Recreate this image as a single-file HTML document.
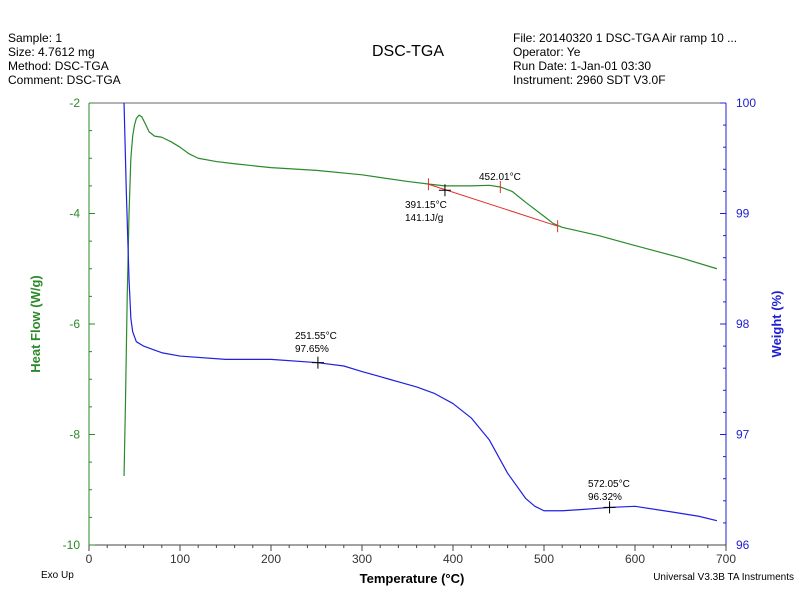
<!DOCTYPE html>
<html><head><meta charset="utf-8"><style>
body{margin:0;background:#fff;font-family:"Liberation Sans",sans-serif}
svg text{font-family:"Liberation Sans",sans-serif}
</style></head><body>
<svg id="c" width="800" height="600" xmlns="http://www.w3.org/2000/svg">
<rect width="800" height="600" fill="#fff"/>
<g font-size="12" fill="#000">
<text x="8" y="42">Sample: 1</text><text x="8" y="56">Size:  4.7612 mg</text>
<text x="8" y="70">Method: DSC-TGA</text><text x="8" y="84">Comment: DSC-TGA</text>
</g>
<text x="408" y="56" font-size="16" text-anchor="middle">DSC-TGA</text>
<g font-size="12">
<text x="513" y="42">File: 20140320   1 DSC-TGA  Air ramp  10 ...</text>
<text x="513" y="56">Operator: Ye</text><text x="513" y="70">Run Date: 1-Jan-01 03:30</text>
<text x="513" y="84">Instrument: 2960 SDT V3.0F</text>
</g>
<text x="41" y="578" font-size="10">Exo Up</text>
<text x="794" y="580" font-size="10" text-anchor="end">Universal V3.3B TA Instruments</text>
<g id="axes"></g>
<g id="marks"></g>
</svg>
<script>
const xTicks=[0,100,200,300,400,500,600,700];
const hfTicks=[-2,-4,-6,-8,-10];
const wTicks=[100,99,98,97,96];
const hfT=[38.5,40,42,44,46,48,50,52,55,58,62,66,72,80,90,100,110,120,140,160,200,250,300,350,375,391,420,440,452,465,480,500,510,520,560,600,650,690];
const hfV=[-8.75,-7.5,-5.5,-4,-3,-2.6,-2.4,-2.28,-2.22,-2.25,-2.38,-2.52,-2.6,-2.62,-2.7,-2.8,-2.92,-3.0,-3.06,-3.1,-3.17,-3.22,-3.3,-3.42,-3.47,-3.5,-3.5,-3.49,-3.52,-3.6,-3.8,-4.05,-4.18,-4.25,-4.4,-4.58,-4.8,-5.0];
const wT=[38.5,41,44,46,48,52,60,70,80,100,150,200,251.5,280,300,330,360,380,400,420,440,460,480,490,500,520,540,572,600,640,670,690];
const wV=[100,99.2,98.4,98.05,97.93,97.84,97.8,97.77,97.74,97.71,97.68,97.68,97.65,97.62,97.57,97.5,97.43,97.37,97.28,97.15,96.95,96.65,96.42,96.35,96.31,96.31,96.32,96.34,96.35,96.3,96.26,96.22];
const baseT=[373,515];const baseV=[-3.47,-4.23];
const X=t=>89+t*0.91, YL=v=>103+(-2-v)*55.25, YR=v=>103+(100-v)*110.5;
const NS='http://www.w3.org/2000/svg';
function mk(tag,at,parent){const e=document.createElementNS(NS,tag);for(const k in at)e.setAttribute(k,at[k]);(parent||document.getElementById('marks')).appendChild(e);return e;}
const ax=document.getElementById('axes');
let e=mk('line',{x1:89,y1:103,x2:726,y2:103,stroke:'#666'},ax);

e=mk('line',{x1:89,y1:103,x2:89,y2:545,stroke:'#2a8a2a'},ax);

e=mk('line',{x1:726,y1:103,x2:726,y2:545,stroke:'#2020d0'},ax);

e=mk('line',{x1:89,y1:545,x2:726,y2:545,stroke:'#444'},ax);

for(let t=0;t<=700;t+=20){mk('line',{x1:X(t),y1:545,x2:X(t),y2:t%100?548:551,stroke:'#444'},ax);}
xTicks.forEach(t=>{e=mk('text',{x:X(t),y:563,'font-size':12,'text-anchor':'middle',fill:'#333'},ax);e.textContent=t;
});
for(let v=-2;v>=-10;v-=0.5){mk('line',{x1:89,y1:YL(v),x2:v%2?92:95,y2:YL(v),stroke:'#2a8a2a'},ax);}
hfTicks.forEach(v=>{e=mk('text',{x:80,y:YL(v)+4,'font-size':12,'text-anchor':'end',fill:'#2a8a2a'},ax);e.textContent=v;
});
for(let v=100;v>=96;v-=0.2){mk('line',{x1:726,y1:YR(v),x2:Math.abs(v-Math.round(v))<0.01?720:723,y2:YR(v),stroke:'#2020d0'},ax);}
wTicks.forEach(v=>{e=mk('text',{x:736,y:YR(v)+4,'font-size':12,fill:'#2020d0'},ax);e.textContent=v;
});
e=mk('text',{x:412,y:583,'font-size':13,'font-weight':'bold','text-anchor':'middle'},ax);e.textContent='Temperature (°C)';

e=mk('text',{x:40,y:324,'font-size':13,'font-weight':'bold','text-anchor':'middle',fill:'#2a8a2a',transform:'rotate(-90 40 324)'},ax);e.textContent='Heat Flow (W/g)';

e=mk('text',{x:781,y:324,'font-size':13,'font-weight':'bold','text-anchor':'middle',fill:'#2020d0',transform:'rotate(-90 781 324)'},ax);e.textContent='Weight (%)';

e=mk('polyline',{points:hfT.map((t,i)=>X(t)+','+YL(hfV[i])).join(' '),fill:'none',stroke:'#2a8a2a','stroke-width':1.2,'stroke-linejoin':'round'});

e=mk('polyline',{points:wT.map((t,i)=>X(t)+','+YR(wV[i])).join(' '),fill:'none',stroke:'#2020e0','stroke-width':1.2,'stroke-linejoin':'round'});

e=mk('line',{x1:X(baseT[0]),y1:YL(baseV[0]),x2:X(baseT[1]),y2:YL(baseV[1]),stroke:'#e03030'});

[[373,-3.47],[452,-3.52],[515,-4.23]].forEach(p=>{e=mk('line',{x1:X(p[0]),y1:YL(p[1])-6,x2:X(p[0]),y2:YL(p[1])+6,stroke:'#e03030'});
});
function cross(x,y,name){e=mk('path',{d:`M${x-6} ${y}H${x+6}M${x} ${y-6}V${y+6}`,stroke:'#000'});
}
cross(X(391.15),YL(-3.58),'peak-marker');cross(X(251.55),YR(97.65),'weight-marker-251');cross(X(572.05),YR(96.34),'weight-marker-572');
function lbl(x,y,s,name){e=mk('text',{x:x,y:y,'font-size':10});e.textContent=s;
}
lbl(479,180,'452.01°C','onset-label');lbl(405,208,'391.15°C','peak-temp-label');lbl(405,221,'141.1J/g','enthalpy-label');
lbl(295,339,'251.55°C','weight-temp-label-1');lbl(295,352,'97.65%','weight-value-label-1');
lbl(588,487,'572.05°C','weight-temp-label-2');lbl(588,500,'96.32%','weight-value-label-2');
</script>
</body></html>
